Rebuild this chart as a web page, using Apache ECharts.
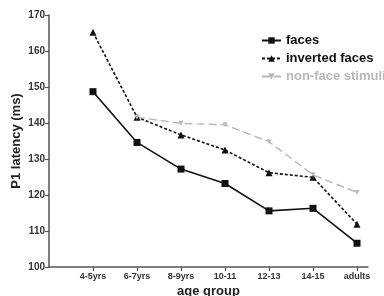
<!DOCTYPE html>
<html>
<head>
<meta charset="utf-8">
<script src="https://cdn.jsdelivr.net/npm/echarts@6/dist/echarts.min.js"></script>
<style>
html, body { margin: 0; padding: 0; background: #fff; }
#chart { width: 384px; height: 296px; }
</style>
</head>
<body>
<div id="chart"></div>
<script>
var ageGroups = ['4-5yrs', '6-7yrs', '8-9yrs', '10-11', '12-13', '14-15', 'adults'];
var faces = [148.7, 134.6, 127.2, 123.2, 115.6, 116.3, 106.6];
var invertedFaces = [165.2, 141.6, 136.7, 132.5, 126.2, 124.9, 111.9];
var nonFace = [null, 141.6, 139.9, 139.5, 134.8, 125.6, 120.7];
var yTicks = [100, 110, 120, 130, 140, 150, 160, 170];

var font = "'Liberation Sans', Arial, sans-serif";
var chart = echarts.init(document.getElementById('chart'));

function pts(arr) {
    var out = [];
    for (var i = 0; i < arr.length; i++) {
        out.push([i + 1, arr[i]]);
    }
    return out;
}

var option = {
    animation: false,
    textStyle: { fontFamily: font },
    grid: { left: 49, right: 16, top: 15, bottom: 29, containLabel: false, outerBoundsMode: 'none' },
    legend: {
        orient: 'vertical',
        left: 256,
        top: 29,
        itemWidth: 19,
        itemHeight: 8,
        itemGap: 5,
        textStyle: { fontFamily: font, fontSize: 13, fontWeight: 'bold', color: '#111' },
        data: [
            { name: 'faces' },
            { name: 'inverted faces' },
            { name: 'non-face stimuli', textStyle: { color: '#b8b8b8' } }
        ]
    },
    xAxis: {
        type: 'value',
        min: 0,
        max: 7.25,
        interval: 1,
        name: 'age group',
        nameLocation: 'middle',
        nameGap: 18,
        nameMoveOverlap: false,
        nameTextStyle: { fontFamily: font, fontSize: 13, fontWeight: 'bold', color: '#222' },
        splitLine: { show: false },
        axisLine: { lineStyle: { color: '#555', width: 1.5 } },
        axisTick: { length: 4, lineStyle: { color: '#555', width: 1.2 }, customValues: [1, 2, 3, 4, 5, 6, 7] },
        axisLabel: {
            customValues: [1, 2, 3, 4, 5, 6, 7],
            fontFamily: font, fontSize: 9, fontWeight: 'bold', color: '#333', margin: 5,
            formatter: function (v) { return ageGroups[Math.round(v) - 1] || ''; }
        }
    },
    yAxis: {
        type: 'value',
        min: yTicks[0],
        max: yTicks[yTicks.length - 1],
        interval: 10,
        name: 'P1 latency (ms)',
        nameLocation: 'middle',
        nameGap: 26,
        nameMoveOverlap: false,
        nameTextStyle: { fontFamily: font, fontSize: 13, fontWeight: 'bold', color: '#222' },
        splitLine: { show: false },
        axisLine: { show: true, lineStyle: { color: '#555', width: 1.5 } },
        axisTick: { show: true, length: 4, lineStyle: { color: '#555', width: 1.2 } },
        axisLabel: { fontFamily: font, fontSize: 10, fontWeight: 'bold', color: '#333', margin: 4 }
    },
    series: [
        {
            name: 'faces',
            type: 'line',
            data: pts(faces),
            symbol: 'rect',
            symbolSize: 7,
            itemStyle: { color: '#111' },
            lineStyle: { color: '#111', width: 1.6 }
        },
        {
            name: 'inverted faces',
            type: 'line',
            data: pts(invertedFaces),
            symbol: 'triangle',
            symbolSize: 7,
            itemStyle: { color: '#111' },
            lineStyle: { color: '#111', width: 1.6, type: [3, 2] }
        },
        {
            name: 'non-face stimuli',
            type: 'line',
            data: pts(nonFace),
            symbol: 'triangle',
            symbolRotate: 180,
            symbolSize: 5,
            itemStyle: { color: '#b8b8b8' },
            lineStyle: { color: '#b8b8b8', width: 1.4, type: [8, 4] }
        }
    ]
};
chart.setOption(option);
</script>
</body>
</html>
